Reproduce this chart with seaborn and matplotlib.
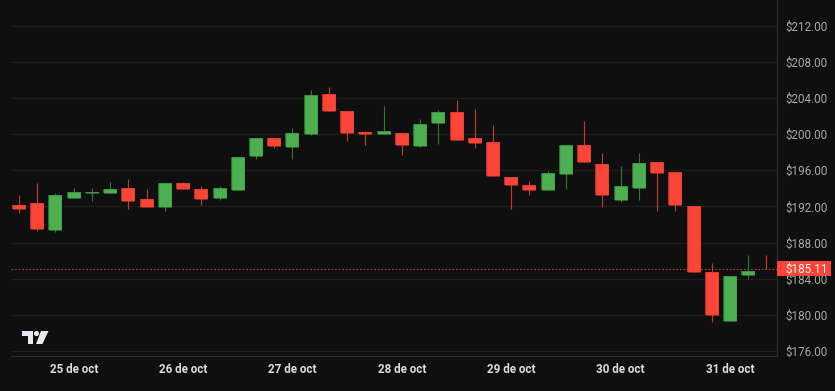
import numpy as np
import pandas as pd
import matplotlib
matplotlib.use("Agg")
import matplotlib.pyplot as plt
from matplotlib.patches import Polygon, Circle, FancyBboxPatch
import seaborn as sns

opens = [192.17,192.35,189.41,192.98,193.46,193.46,194.05,192.83,191.98,194.56,193.94,192.98,193.86,197.61,
         199.60,198.61,200.01,204.39,202.59,200.23,200.05,200.08,198.68,201.19,202.48,199.60,199.13,195.23,
         194.38,193.83,195.63,198.80,196.74,192.72,194.05,196.92,195.81,192.06,184.80,179.39,184.43,185.13]
highs = [193.27,194.64,193.46,194.05,194.05,194.67,195.04,193.94,194.56,194.67,194.27,194.27,197.43,199.60,
         199.60,200.67,204.87,205.16,202.59,200.30,203.10,200.08,201.63,202.66,203.77,202.77,200.97,195.23,
         194.82,195.92,198.80,201.49,197.88,196.48,197.91,196.92,195.81,192.06,185.72,184.32,186.67,186.67]
lows = [191.32,189.33,189.22,192.98,192.65,193.46,191.76,191.98,191.54,193.94,192.20,192.72,193.86,197.24,
        198.50,197.24,199.90,202.59,199.20,198.80,200.05,197.69,198.57,198.90,199.38,198.50,195.41,191.69,
        193.24,193.83,193.94,196.92,191.95,192.46,192.72,191.47,191.47,184.73,179.28,179.39,184.03,185.11]
closes = [191.69,189.48,193.27,193.57,193.57,193.94,192.65,191.98,194.56,193.94,192.87,194.05,197.43,199.60,
          198.68,200.08,204.28,202.59,200.08,200.05,200.30,198.79,201.11,202.48,199.38,199.01,195.41,194.34,
          193.83,195.74,198.80,196.92,193.27,194.27,196.81,195.74,192.17,184.73,179.98,184.32,184.91,185.11]
y_ticks = [176, 180, 184, 188, 192, 196, 200, 204, 208, 212]
day_labels = ["25 de oct", "26 de oct", "27 de oct", "28 de oct", "29 de oct", "30 de oct", "31 de oct"]
day_positions = [3, 9, 15, 21, 27, 33, 39]
last_price = 185.11

BG = "#0f0f0f"; GRID = "#1d1d1d"; AXIS = "#2b2b2b"
RED = "#fc4437"; GREEN = "#4caf50"; DRED = "#c73a30"; DGREEN = "#2f7a34"

sns.set_theme(style="dark")
plt.rcParams["font.family"] = ["Roboto", "DejaVu Sans"]
plt.rcParams["lines.solid_capstyle"] = "butt"

W, H = 835, 391
fig = plt.figure(figsize=(W/100, H/100), dpi=100, facecolor=BG)
ax = fig.add_axes([11/W, 1-355.7/H, (776.7-11)/W, 355.7/H], facecolor=BG)

rows_w, rows_b = [], []
for i, (o, h, l, c) in enumerate(zip(opens, highs, lows, closes)):
    d = "up" if c > o else "down"
    rows_w += [(i, h, d), (i, l, d)]
    rows_b += [(i, o, d), (i, c, d)]
wicks = pd.DataFrame(rows_w, columns=["i", "p", "d"])
bodies = pd.DataFrame(rows_b, columns=["i", "p", "d"])

for v in y_ticks:
    ax.axhline(v, color=GRID, lw=0.9, zorder=0)

sns.lineplot(data=wicks, x="i", y="p", hue="d", units="i", estimator=None, sort=False,
             palette={"up": DGREEN, "down": DRED}, lw=0.8, legend=False, ax=ax, zorder=2)
ax.axhline(last_price, color="#b3392f", lw=0.8, dashes=(1.6, 1.6), zorder=1)
sns.lineplot(data=bodies, x="i", y="p", hue="d", units="i", estimator=None, sort=False,
             palette={"up": DGREEN, "down": DRED}, lw=9.9, legend=False, ax=ax, zorder=3)
sns.lineplot(data=bodies, x="i", y="p", hue="d", units="i", estimator=None, sort=False,
             palette={"up": GREEN, "down": RED}, lw=9.1, legend=False, ax=ax, zorder=4)

ax.set_xlim(-0.44, 41.56)
ax.set_ylim(175.51, 214.82)
ax.set_xlabel(""); ax.set_ylabel("")
ax.set_xticks(day_positions, day_labels)
ax.set_yticks(y_ticks, [f"${v:.2f}" for v in y_ticks])
ax.yaxis.tick_right()
ax.tick_params(axis="x", length=0, pad=5, labelsize=8.4, labelcolor="#dcdcdc")
ax.tick_params(axis="y", length=0, pad=6, labelsize=8.4, labelcolor="#a8a8a8")
for t in ax.get_xticklabels():
    t.set_fontweight("bold")
ax.grid(False)
for s in ["top", "left"]:
    ax.spines[s].set_visible(False)
for s in ["right", "bottom"]:
    ax.spines[s].set_color(AXIS); ax.spines[s].set_linewidth(0.9)

# last-price tag on the axis
trans = ax.get_yaxis_transform()
tag = FancyBboxPatch((1.0, last_price-0.82), 0.0705, 1.64, transform=trans, clip_on=False,
                     boxstyle="square,pad=0", fc=RED, ec="none", zorder=6)
ax.add_patch(tag)
ax.text(1.0118, last_price-0.02, "$185.11", transform=trans, color="#ffffff", fontsize=8.4,
        va="center", ha="left", zorder=7)

# TradingView mark in figure pixels
def px(x, y):
    return (x/W, 1-y/H)
logo = "#e6e8f2"
fig.add_artist(Polygon([px(21.5,331), px(33,331), px(33,344), px(27.5,344), px(27.5,336), px(21.5,336)],
                       transform=fig.transFigure, fc=logo, ec="none"))
fig.add_artist(Polygon([px(41,331), px(48.5,331), px(42.5,344), px(36,344)],
                       transform=fig.transFigure, fc=logo, ec="none"))
fig.add_artist(Circle((36.5, H-333.5), 2.6, transform=None, fc=logo, ec="none"))

fig.savefig("out.png", dpi=100, facecolor=BG)
